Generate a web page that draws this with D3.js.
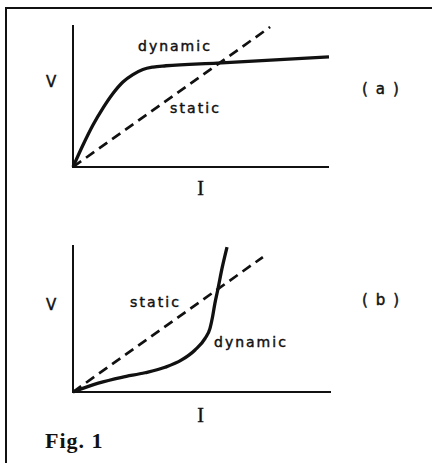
<!DOCTYPE html>
<html>
<head>
<meta charset="utf-8">
<script src="https://cdn.jsdelivr.net/npm/d3@7/dist/d3.min.js"></script>
<style>
  html, body { margin: 0; padding: 0; background: #fff; }
  svg { display: block; }
</style>
</head>
<body>
<svg id="fig" width="432" height="463"></svg>
<script>
// Panel (a): dynamic characteristic saturates, static line from the origin
const dynamicA = [
  [0, 0], [0.39, 1.55], [0.78, 2.96], [1.17, 4.15], [1.56, 5.18],
  [1.95, 5.99], [2.34, 6.51], [2.73, 6.87], [3.13, 7.04], [3.63, 7.13],
  [5.63, 7.32], [10, 7.75]
];
const staticA = [[0, 0], [7.7, 9.86]];

// Panel (b): dynamic characteristic rises sharply, static line from the origin
const dynamicB = [
  [0, 0], [0.98, 0.6], [1.89, 1.0], [2.79, 1.31], [3.57, 1.68],
  [4.21, 2.18], [4.73, 2.86], [5.12, 3.65], [5.31, 4.33], [5.41, 5.12],
  [5.5, 6.03], [5.61, 6.94], [5.78, 8.44], [5.97, 9.86]
];
const staticB = [[0, 0], [7.36, 9.18]];

const axisLabels = { x: "I", y: "V" };
const panelTags = ["(a)", "(b)"];
const caption = "Fig. 1";

const svg = d3.select("#fig");
const ink = "#111";

// frame: top rule and left rule
svg.append("line").attr("x1", 5).attr("x2", 432).attr("y1", 8).attr("y2", 8)
  .attr("stroke", ink).attr("stroke-width", 2);
svg.append("line").attr("x1", 6).attr("x2", 6).attr("y1", 7).attr("y2", 463)
  .attr("stroke", ink).attr("stroke-width", 2);

const panels = [
  {
    dyn: dynamicA, stat: staticA, tag: panelTags[0],
    xr: [73, 329], yr: [167, 25],
    dynLabel: { x: 138, y: 51 }, statLabel: { x: 170, y: 113 },
    vy: 87, tagY: 94, iy: 195
  },
  {
    dyn: dynamicB, stat: staticB, tag: panelTags[1],
    xr: [73, 331], yr: [392, 245],
    dynLabel: { x: 214, y: 347 }, statLabel: { x: 130, y: 307 },
    vy: 310, tagY: 305, iy: 422
  }
];

const sans = "DejaVu Sans, sans-serif";

panels.forEach(p => {
  const x = d3.scaleLinear().domain([0, 10]).range(p.xr);
  const y = d3.scaleLinear().domain([0, 10]).range(p.yr);
  const g = svg.append("g");

  // axes
  g.append("line").attr("x1", x(0)).attr("x2", x(0)).attr("y1", y(0)).attr("y2", y(10))
    .attr("stroke", ink).attr("stroke-width", 2);
  g.append("line").attr("x1", x(0) - 1).attr("x2", x(10)).attr("y1", y(0)).attr("y2", y(0))
    .attr("stroke", ink).attr("stroke-width", 2);

  const line = d3.line().x(d => x(d[0])).y(d => y(d[1]));

  g.append("path").datum(p.stat)
    .attr("d", line)
    .attr("fill", "none").attr("stroke", ink)
    .attr("stroke-width", 2.7).attr("stroke-dasharray", "10,6");

  g.append("path").datum(p.dyn)
    .attr("d", line.curve(d3.curveMonotoneX))
    .attr("fill", "none").attr("stroke", ink)
    .attr("stroke-width", 3.3).attr("stroke-linejoin", "round");

  const label = (tx, ty, txt, size, spacing) =>
    g.append("text").attr("x", tx).attr("y", ty)
      .attr("font-family", sans).attr("font-size", size)
      .attr("letter-spacing", spacing)
      .attr("fill", ink).attr("stroke", ink).attr("stroke-width", 0.45)
      .text(txt);

  label(p.dynLabel.x, p.dynLabel.y, "dynamic", 14, 2);
  label(p.statLabel.x, p.statLabel.y, "static", 14, 2.1);
  label(46, p.vy, axisLabels.y, 15, 0);
  label(362, p.tagY, p.tag, 15, 8);

  g.append("text").attr("x", 200.5).attr("y", p.iy).attr("text-anchor", "middle")
    .attr("font-family", "Liberation Serif, serif").attr("font-size", 20)
    .attr("fill", ink).attr("stroke", ink).attr("stroke-width", 0.4)
    .text(axisLabels.x);
});

svg.append("text").attr("x", 45).attr("y", 448)
  .attr("font-family", "Liberation Serif, serif").attr("font-weight", "bold")
  .attr("font-size", 22).attr("letter-spacing", 1)
  .attr("fill", ink).text(caption);
</script>
</body>
</html>
